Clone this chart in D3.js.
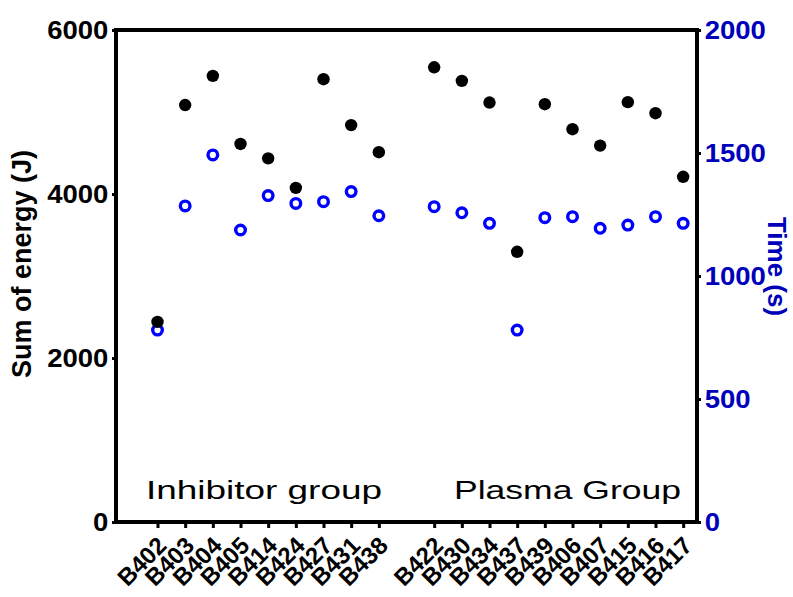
<!DOCTYPE html>
<html>
<head>
<meta charset="utf-8">
<script src="https://cdn.jsdelivr.net/npm/d3@7"></script>
<style>
  html, body { margin: 0; padding: 0; background: #fff; }
  svg { display: block; font-family: "Liberation Sans", Arial, sans-serif; }
</style>
</head>
<body>
<div id="chart"></div>
<script>
// 两组样本：抑制剂组 / 血浆组
const inhibitorIds = ["B402", "B403", "B404", "B405", "B414", "B424", "B427", "B431", "B438"];
const plasmaIds = ["B422", "B430", "B434", "B437", "B439", "B406", "B407", "B415", "B416", "B417"];

// 能量总和 (J)，左轴
const inhibitorEnergy = [2440, 5085, 5440, 4610, 4435, 4075, 5400, 4840, 4510];
const plasmaEnergy = [5545, 5380, 5115, 3295, 5095, 4790, 4590, 5120, 4985, 4210];

// 时间 (s)，右轴
const inhibitorTime = [780, 1285, 1492, 1187, 1327, 1295, 1302, 1343, 1245];
const plasmaTime = [1282, 1257, 1214, 780, 1237, 1241, 1194, 1207, 1241, 1214];

const energyTicks = [0, 2000, 4000, 6000];
const timeTicks = [0, 500, 1000, 1500, 2000];
const groupLabels = ["Inhibitor group", "Plasma Group"];

const W = 793, H = 597;
const plot = { left: 116, right: 697, top: 30, bottom: 522 };
const blue = "#0000ff", darkBlue = "#0000bb";

// 两组之间空一格
const rows = [];
inhibitorIds.forEach((id, i) => rows.push({ id, pos: i, energy: inhibitorEnergy[i], time: inhibitorTime[i] }));
plasmaIds.forEach((id, i) => rows.push({ id, pos: i + inhibitorIds.length + 1, energy: plasmaEnergy[i], time: plasmaTime[i] }));

const svg = d3.select("#chart").append("svg")
  .attr("width", W)
  .attr("height", H);

const x = d3.scaleLinear().domain([-1.5, 19.5]).range([plot.left, plot.right]);
const yL = d3.scaleLinear().domain([0, 6000]).range([plot.bottom, plot.top]);
const yR = d3.scaleLinear().domain([0, 2000]).range([plot.bottom, plot.top]);

// 左轴
const gL = svg.append("g")
  .attr("transform", `translate(${plot.left},0)`)
  .call(d3.axisLeft(yL).tickValues(energyTicks).tickFormat(d3.format("d")).tickSize(4).tickPadding(3));
gL.select(".domain").remove();
gL.selectAll("line").attr("stroke", "#000").attr("stroke-width", 3);
gL.selectAll("text")
  .style("font-size", "25px").style("font-weight", "bold").attr("fill", "#000")
  .attr("transform", "scale(1.1,1)");

// 右轴
const gR = svg.append("g")
  .attr("transform", `translate(${plot.right},0)`)
  .call(d3.axisRight(yR).tickValues(timeTicks).tickFormat(d3.format("d")).tickSize(4).tickPadding(3));
gR.select(".domain").remove();
gR.selectAll("line").attr("stroke", "#000").attr("stroke-width", 3);
gR.selectAll("text")
  .style("font-size", "25px").style("font-weight", "bold").attr("fill", darkBlue)
  .attr("transform", "scale(1.1,1)");

// 底部分类轴
const gB = svg.append("g")
  .attr("transform", `translate(0,${plot.bottom})`)
  .call(d3.axisBottom(x)
    .tickValues(rows.map(d => d.pos))
    .tickFormat((d, i) => rows[i].id)
    .tickSize(6));
gB.select(".domain").remove();
gB.selectAll("line").attr("stroke", "#000").attr("stroke-width", 3);
gB.selectAll("text")
  .attr("y", 0).attr("dy", 0)
  .attr("text-anchor", "end")
  .attr("transform", "translate(10,25) rotate(-45)")
  .style("font-size", "24px").style("font-weight", "bold").attr("fill", "#000");

// 外框
svg.append("rect")
  .attr("x", plot.left).attr("y", plot.top)
  .attr("width", plot.right - plot.left).attr("height", plot.bottom - plot.top)
  .attr("fill", "none").attr("stroke", "#000").attr("stroke-width", 4);

// 组名
const groupX = [146, 454];
const groupW = [236, 227];
groupLabels.forEach((t, i) => {
  svg.append("text")
    .attr("x", groupX[i]).attr("y", 499)
    .attr("textLength", groupW[i]).attr("lengthAdjust", "spacingAndGlyphs")
    .style("font-size", "25px").attr("fill", "#000")
    .text(t);
});

// 轴标题
svg.append("text")
  .attr("transform", `translate(31,${(145 + 383) / 2}) rotate(-90)`)
  .attr("text-anchor", "middle")
  .style("font-size", "27px").style("font-weight", "bold").attr("fill", "#000")
  .text("Sum of energy (J)");
svg.append("text")
  .attr("transform", `translate(768,${(215 + 318) / 2}) rotate(90)`)
  .attr("text-anchor", "middle")
  .style("font-size", "26px").style("font-weight", "bold").attr("fill", darkBlue)
  .text("Time (s)");

// 时间：蓝色空心圆
svg.append("g").selectAll("circle")
  .data(rows).enter().append("circle")
  .attr("cx", d => x(d.pos))
  .attr("cy", d => yR(d.time))
  .attr("r", 4.8)
  .attr("fill", "none")
  .attr("stroke", blue)
  .attr("stroke-width", 3.4);

// 能量：黑色实心圆
svg.append("g").selectAll("circle")
  .data(rows).enter().append("circle")
  .attr("cx", d => x(d.pos))
  .attr("cy", d => yL(d.energy))
  .attr("r", 6.2)
  .attr("fill", "#000");
</script>
</body>
</html>
